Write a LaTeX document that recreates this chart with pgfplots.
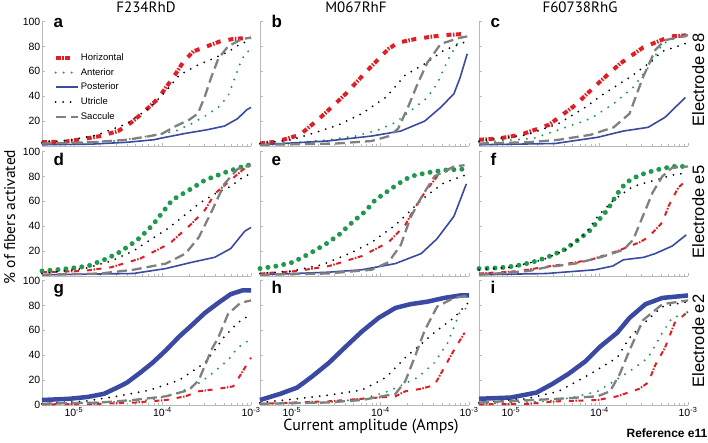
\documentclass[border=0pt]{standalone}
\usepackage{pgfplots}
\pgfplotsset{compat=1.18}
\usepackage{fontspec}
\setmainfont{Liberation Sans}
\newfontfamily\ptsans{PT Sans}
\definecolor{hred}{RGB}{222,32,38}
\definecolor{agreen}{RGB}{32,152,78}
\definecolor{pblue}{RGB}{58,74,162}
\definecolor{sgray}{RGB}{128,128,128}
\definecolor{axisgray}{RGB}{185,185,185}
\tikzset{
  hor/.style={color=hred, line width=#1, dash pattern=on 5pt off 1.5pt on 1.5pt off 1.5pt on 5pt off 8pt},
  ant/.style={color=agreen, line width=#1, line cap=round, dash pattern=on 0pt off 8pt},
  post/.style={color=pblue, line width=#1, line join=round},
  utr/.style={color=black, line width=2pt, line cap=round, dash pattern=on 0pt off 7.5pt},
  sac/.style={color=sgray, line width=2.3pt, dash pattern=on 10pt off 5pt},
}
\pgfplotsset{
  panel/.style={
    scale only axis, width=209pt, height=124.5pt, anchor=south west,
    xmin=-5.36, xmax=-3, ymin=0, ymax=100,
    axis x line*=bottom, axis y line*=left,
    axis line style={draw=axisgray, line width=0.7pt, -},
    xtick={-5,-4,-3},
    minor xtick={-5.30103,-5.22185,-5.15490,-5.09691,-5.04576,-4.69897,-4.52288,-4.39794,-4.30103,-4.22185,-4.15490,-4.09691,-4.04576,-3.69897,-3.52288,-3.39794,-3.30103,-3.22185,-3.15490,-3.09691,-3.04576},
    ytick={20,40,60,80,100},
    xticklabels={},
    tick style={draw=axisgray, line width=0.6pt},
    major tick length=3pt, minor tick length=2pt,
    tick align=inside,
    /pgf/number format/assume math mode=true,
    tick label style={font=\fontsize{10.5}{12}\selectfont, inner sep=1.5pt},
    xticklabel style={inner sep=0.5pt, yshift=-2pt},
    clip=false,
  },
  noy/.style={yticklabels={}},
  bottomrow/.style={ytick={0,20,40,60,80,100}, xticklabels={10\textsuperscript{-5},10\textsuperscript{-4},10\textsuperscript{-3}}},
}
\newcommand{\plet}[2]{\node[anchor=base west, font=\bfseries\fontsize{17}{17}\selectfont, xshift=8pt, yshift=#2] at (rel axis cs:0,1) {#1};}
\begin{document}
\begin{tikzpicture}[x=1pt,y=1pt]
\path[use as bounding box] (0,0) rectangle (708,442);
% ---------------- row 1: electrode e8
\begin{axis}[panel, at={(42pt,296pt)},
  legend style={at={(0.055,0.755)}, anchor=north west, draw=none, fill=none, font=\fontsize{9.5}{11}\selectfont, row sep=3.3pt, inner sep=0pt, nodes={inner sep=1.2pt, text height=7pt, text depth=2pt}},
  legend cell align=left,
  legend image code/.code={\draw[#1] (0pt,0pt) -- (22pt,0pt);}]
\addplot[hor=4pt] coordinates {(-5.36,3)(-5.1,3.5)(-4.9,5.5)(-4.7,8)(-4.5,12)(-4.35,19)(-4.2,28)(-4.05,38)(-3.95,48)(-3.85,58)(-3.76,68)(-3.65,76)(-3.5,80)(-3.35,84)(-3.2,86)(-3.0,87)};
\addlegendentry{Horizontal}
\addplot[ant=2.2pt] coordinates {(-5.36,2)(-4.8,3)(-4.55,4)(-4.33,6)(-4.07,9)(-3.85,12)(-3.67,18)(-3.52,24)(-3.37,31)(-3.26,40)(-3.18,55)(-3.12,67)(-3.06,75)(-3.0,77)};
\addlegendentry{Anterior}
\addplot[post=1.6pt] coordinates {(-5.36,1)(-4.8,1.5)(-4.4,3)(-4.1,5)(-4.0,6.5)(-3.75,10)(-3.5,13)(-3.3,16)(-3.15,22)(-3.05,29)(-3.0,31)};
\addlegendentry{Posterior}
\addplot[utr] coordinates {(-5.36,3)(-5.05,4.5)(-4.73,9)(-4.4,18)(-4.14,31)(-3.96,44)(-3.81,57)(-3.6,65)(-3.4,71)(-3.25,76)(-3.12,82)(-3.0,85)};
\addlegendentry{Utricle}
\addplot[sac] coordinates {(-5.36,2)(-4.8,3)(-4.4,5)(-4.14,8)(-4.0,10)(-3.85,16)(-3.7,21)(-3.6,26)(-3.52,40)(-3.45,55)(-3.37,70)(-3.26,80)(-3.1,86)(-3.0,87)};
\addlegendentry{Saccule}
\plet{a}{-6pt}
\end{axis}
\begin{axis}[panel, noy, at={(260pt,296pt)}]
\addplot[hor=4pt] coordinates {(-5.36,2)(-5.17,3.5)(-4.91,9)(-4.69,22)(-4.39,42)(-4.17,59)(-3.91,78)(-3.8,83)(-3.6,86)(-3.3,89)(-3.05,90)};
\addplot[ant=2.2pt] coordinates {(-5.36,1.5)(-4.9,3)(-4.58,5)(-4.28,8)(-4.02,13)(-3.83,19)(-3.61,31)(-3.47,39)(-3.36,50)(-3.24,69)(-3.1,86)(-3.02,90)};
\addplot[post=1.6pt] coordinates {(-5.36,1)(-4.6,4)(-4.1,8)(-3.77,12)(-3.5,20)(-3.32,31)(-3.17,42)(-3.1,55)(-3.02,74)};
\addplot[utr] coordinates {(-5.36,2)(-5.0,5)(-4.77,10)(-4.47,17)(-4.21,26)(-3.94,39)(-3.72,57)(-3.5,66)(-3.28,77)(-3.1,82)(-3.02,84)};
\addplot[sac] coordinates {(-5.36,1)(-4.5,2)(-4.1,4)(-3.9,8)(-3.8,14)(-3.69,31)(-3.58,50)(-3.47,67)(-3.32,82)(-3.1,87)(-3.02,88)};
\plet{b}{-6pt}
\end{axis}
\begin{axis}[panel, noy, at={(479pt,296pt)}]
\addplot[hor=4pt] coordinates {(-5.36,5)(-5.14,6)(-4.89,9)(-4.57,17)(-4.27,33)(-4.02,50)(-3.77,66)(-3.51,79)(-3.2,88)(-3.0,89)};
\addplot[ant=2.2pt] coordinates {(-5.36,3)(-4.75,6)(-4.42,14)(-4.1,22)(-3.84,34)(-3.62,47)(-3.45,63)(-3.29,82)(-3.1,88)(-3.0,89)};
\addplot[post=1.6pt] coordinates {(-5.36,1)(-4.5,2)(-4.02,7)(-3.73,12)(-3.45,15)(-3.26,23)(-3.03,39)};
\addplot[utr] coordinates {(-5.36,4)(-4.82,9)(-4.46,18)(-4.16,31)(-3.95,42)(-3.66,55)(-3.45,66)(-3.29,76)(-3.0,83)};
\addplot[sac] coordinates {(-5.36,2)(-4.8,3)(-4.46,5)(-4.1,9)(-3.84,15)(-3.66,26)(-3.51,55)(-3.37,77)(-3.26,85)(-3.0,89)};
\plet{c}{-6pt}
\end{axis}
% ---------------- row 2: electrode e5
\begin{axis}[panel, at={(42pt,166pt)}]
\addplot[hor=2pt] coordinates {(-5.36,3)(-4.9,4)(-4.58,7)(-4.25,14)(-3.92,26)(-3.67,42)(-3.52,53)(-3.41,66)(-3.23,77)(-3.08,86)(-3.0,88)};
\addplot[ant=5pt] coordinates {(-5.36,4)(-5.05,6)(-4.84,8)(-4.66,13)(-4.51,18)(-4.36,25)(-4.25,31)(-4.11,41)(-4.0,51)(-3.89,61)(-3.7,69)(-3.52,77)(-3.3,83)(-3.05,89)(-3.0,89)};
\addplot[post=1.6pt] coordinates {(-5.36,1)(-4.33,2)(-3.96,6)(-3.67,11)(-3.41,15)(-3.23,22)(-3.07,36)(-3.0,39)};
\addplot[utr] coordinates {(-5.36,2)(-4.88,6)(-4.58,12)(-4.33,20)(-4.14,29)(-3.96,37)(-3.78,47)(-3.59,58)(-3.41,66)(-3.23,72)(-3.08,80)(-3.0,82)};
\addplot[sac] coordinates {(-5.36,1)(-4.7,2)(-4.33,5)(-3.96,10)(-3.74,18)(-3.59,31)(-3.45,51)(-3.3,74)(-3.15,86)(-3.0,89)};
\plet{d}{-14pt}
\end{axis}
\begin{axis}[panel, noy, at={(260pt,166pt)}]
\addplot[hor=2pt] coordinates {(-5.36,2)(-4.94,4)(-4.58,8)(-4.21,16)(-3.91,27)(-3.72,41)(-3.61,55)(-3.5,67)(-3.36,80)(-3.17,88)};
\addplot[ant=5pt] coordinates {(-5.36,6)(-5.17,8)(-4.99,11)(-4.8,18)(-4.61,26)(-4.47,33)(-4.32,43)(-4.17,52)(-4.06,61)(-3.94,67)(-3.8,74)(-3.66,80)(-3.47,83)(-3.28,85)(-3.02,86)};
\addplot[post=1.6pt] coordinates {(-5.36,1)(-4.6,3)(-4.21,5)(-3.83,10)(-3.54,18)(-3.36,30)(-3.17,48)(-3.03,74)};
\addplot[utr] coordinates {(-5.36,2)(-5.0,4)(-4.66,9)(-4.32,19)(-4.1,27)(-3.83,41)(-3.61,56)(-3.47,65)(-3.28,75)(-3.0,82)};
\addplot[sac] coordinates {(-5.36,1)(-4.6,2)(-4.1,5)(-3.91,11)(-3.77,25)(-3.66,47)(-3.54,63)(-3.39,80)(-3.17,88)(-3.05,89)};
\plet{e}{-14pt}
\end{axis}
\begin{axis}[panel, noy, at={(479pt,166pt)}]
\addplot[hor=2pt] coordinates {(-5.36,2)(-4.9,4)(-4.64,7)(-4.35,10)(-4.1,13)(-3.8,20)(-3.55,27)(-3.45,31)(-3.29,43)(-3.22,56)(-3.11,71)(-3.03,76)};
\addplot[ant=5pt] coordinates {(-5.36,6)(-5.14,6.5)(-4.95,8)(-4.76,11)(-4.59,15)(-4.4,21)(-4.24,29)(-4.1,37)(-4.02,44)(-3.91,53)(-3.8,66)(-3.7,75)(-3.55,81)(-3.37,85)(-3.18,88)(-3.02,88)};
\addplot[post=1.6pt] coordinates {(-5.36,1)(-4.6,2)(-4.05,5)(-3.85,8)(-3.73,13)(-3.5,15)(-3.37,18)(-3.18,24)(-3.02,33)};
\addplot[utr] coordinates {(-5.36,5)(-5.0,7)(-4.64,13)(-4.38,21)(-4.16,34)(-4.02,48)(-3.84,61)(-3.62,72)(-3.37,77)(-3.18,81)(-3.0,83)};
\addplot[sac] coordinates {(-5.36,1)(-4.8,4)(-4.6,7)(-4.27,10)(-3.99,15)(-3.73,21)(-3.62,29)(-3.51,48)(-3.4,67)(-3.29,80)(-3.18,87)(-3.0,88)};
\plet{f}{-14pt}
\end{axis}
% ---------------- row 3: electrode e2
\begin{axis}[panel, bottomrow, at={(42pt,37pt)}]
\addplot[hor=2pt] coordinates {(-5.36,0.5)(-4.7,1)(-4.3,2)(-3.96,4)(-3.74,7)(-3.59,11)(-3.37,13)(-3.2,15)(-3.12,24)(-3.0,38)};
\addplot[ant=2.2pt] coordinates {(-5.36,1)(-4.69,2)(-4.14,4)(-3.9,8)(-3.78,11)(-3.6,17)(-3.48,23)(-3.26,36)(-3.15,46)(-3.0,53)};
\addplot[post=4.5pt] coordinates {(-5.36,4)(-5.05,5)(-4.84,6.5)(-4.66,9)(-4.51,14)(-4.4,18)(-4.25,26)(-4.11,34)(-3.96,44)(-3.81,55)(-3.67,64)(-3.52,74)(-3.37,82)(-3.23,89)(-3.1,92)(-3.0,92)};
\addplot[utr] coordinates {(-5.36,1)(-4.88,3)(-4.51,7)(-4.14,12)(-3.81,20)(-3.52,34)(-3.4,45)(-3.3,55)(-3.15,66)(-3.0,73)};
\addplot[sac] coordinates {(-5.36,1)(-4.7,2)(-4.33,4)(-3.96,7)(-3.7,12)(-3.59,20)(-3.5,35)(-3.45,44)(-3.37,54)(-3.26,73)(-3.12,82)(-3.0,84)};
\plet{g}{-13pt}
\end{axis}
\begin{axis}[panel, bottomrow, noy, at={(260pt,37pt)}]
\addplot[hor=2pt] coordinates {(-5.36,1)(-4.58,3)(-4.21,5)(-3.83,7)(-3.72,11)(-3.54,13)(-3.39,16)(-3.28,30)(-3.17,44)(-3.05,58)};
\addplot[ant=2.2pt] coordinates {(-5.36,1)(-4.6,2)(-4.2,5)(-3.91,11)(-3.58,22)(-3.39,34)(-3.24,50)(-3.1,75)(-3.0,79)};
\addplot[post=4.5pt] coordinates {(-5.36,4)(-5.13,9)(-4.94,14)(-4.77,23)(-4.58,34)(-4.39,47)(-4.21,59)(-4.02,70)(-3.83,78)(-3.66,81)(-3.47,83)(-3.28,86)(-3.1,88)(-3.0,88)};
\addplot[utr] coordinates {(-5.36,2)(-4.94,5)(-4.58,8)(-4.21,12)(-3.94,22)(-3.72,38)(-3.54,49)(-3.36,60)(-3.17,70)(-3.0,83)};
\addplot[sac] coordinates {(-5.36,1)(-4.6,2)(-4.21,4)(-3.83,9)(-3.72,19)(-3.61,39)(-3.5,60)(-3.36,79)(-3.17,86)(-3.0,88)};
\plet{h}{-13pt}
\end{axis}
\begin{axis}[panel, bottomrow, noy, at={(479pt,37pt)}]
\addplot[hor=2pt] coordinates {(-5.36,0.5)(-4.8,1)(-4.46,3)(-4.02,4)(-3.8,7)(-3.55,13)(-3.45,18)(-3.37,32)(-3.26,46)(-3.15,66)(-3.0,75)};
\addplot[ant=2.2pt] coordinates {(-5.36,1)(-4.6,3)(-4.3,6)(-4.02,11)(-3.66,27)(-3.45,38)(-3.29,58)(-3.18,70)(-3.0,74)};
\addplot[post=4.5pt] coordinates {(-5.36,5)(-5.0,6)(-4.71,10)(-4.53,17)(-4.35,25)(-4.16,35)(-3.99,47)(-3.8,58)(-3.66,70)(-3.48,81)(-3.29,86)(-3.0,88)};
\addplot[utr] coordinates {(-5.36,2)(-4.82,5)(-4.46,11)(-4.1,25)(-3.8,38)(-3.66,54)(-3.51,65)(-3.29,79)(-3.0,83)};
\addplot[sac] coordinates {(-5.36,2)(-4.46,5)(-4.02,7)(-3.88,11)(-3.77,25)(-3.66,44)(-3.51,68)(-3.29,81)(-3.0,84)};
\plet{i}{-13pt}
\end{axis}
% ---------------- labels
\node[anchor=base, font=\ptsans\fontsize{15}{15}\selectfont] at (146pt,429.5pt) {F234RhD};
\node[anchor=base, font=\ptsans\fontsize{15}{15}\selectfont] at (356pt,429.5pt) {M067RhF};
\node[anchor=base, font=\ptsans\fontsize{15}{15}\selectfont] at (580pt,429.5pt) {F60738RhG};
\node[anchor=base, font=\ptsans\fontsize{16}{16}\selectfont, inner sep=0pt] at (371pt,11.5pt) {Current amplitude (Amps)};
\node[anchor=base, rotate=90, font=\ptsans\fontsize{15.5}{16}\selectfont] at (15pt,225pt) {\% of fibers activated};
\node[anchor=base, rotate=90, font=\fontsize{16.5}{17}\selectfont] at (704pt,362pt) {Electrode e8};
\node[anchor=base, rotate=90, font=\fontsize{16.5}{17}\selectfont] at (704pt,230pt) {Electrode e5};
\node[anchor=base, rotate=90, font=\fontsize{16.5}{17}\selectfont] at (704pt,101pt) {Electrode e2};
\node[anchor=base east, font=\bfseries\fontsize{12}{12}\selectfont, inner sep=0pt] at (707.5pt,5pt) {Reference e11};
\end{tikzpicture}
\end{document}
